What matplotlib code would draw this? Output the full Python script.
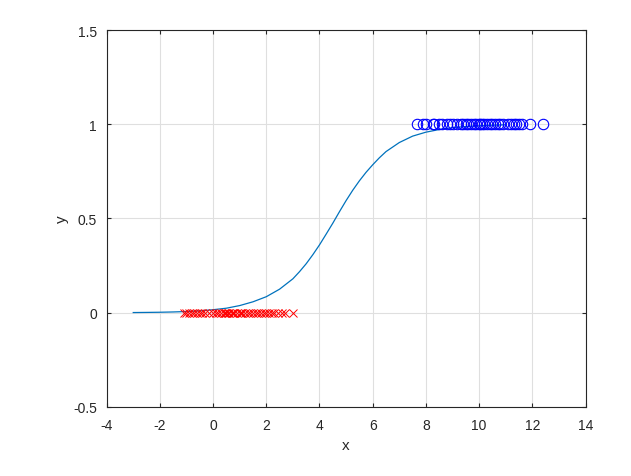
import matplotlib
matplotlib.use('Agg')
import matplotlib.pyplot as plt

plt.rcParams['font.family'] = ['Liberation Sans', 'DejaVu Sans']
plt.rcParams['axes.unicode_minus'] = False

# Curva logística
curva_x = [-3, -2.5, -2, -1.5, -1, -0.5, 0, 0.5, 1, 1.5, 2, 2.5, 3, 3.25, 3.5,
           3.75, 4, 4.25, 4.5, 4.75, 5, 5.25, 5.5, 5.75, 6, 6.25, 6.5, 7, 7.5,
           8, 8.5, 9, 9.5, 10, 10.5, 11]
curva_y = [0.001, 0.0017, 0.0026, 0.0041, 0.0064, 0.010, 0.016, 0.024, 0.038,
           0.058, 0.085, 0.125, 0.18, 0.218, 0.26, 0.308, 0.36, 0.417, 0.475,
           0.536, 0.595, 0.65, 0.70, 0.745, 0.785, 0.822, 0.855, 0.903, 0.937,
           0.958, 0.972, 0.982, 0.988, 0.992, 0.995, 0.997]

# Classe 0 (x vermelhos)
neg_x = [-1.1, -1.0, -0.9, -0.8, -0.7, -0.6, -0.5, -0.4, -0.3, -0.15, 0.0,
         0.1, 0.2, 0.3, 0.4, 0.45, 0.5, 0.55, 0.6, 0.7, 0.75, 0.8, 0.9, 1.0,
         1.05, 1.1, 1.2, 1.3, 1.4, 1.5, 1.6, 1.7, 1.8, 1.9, 2.0, 2.1, 2.2,
         2.3, 2.45, 2.6, 2.7, 3.0]

# Classe 1 (círculos azuis)
pos_x = [7.65, 7.9, 8.0, 8.25, 8.3, 8.5, 8.6, 8.8, 8.9, 9.0, 9.15, 9.3, 9.4,
         9.5, 9.6, 9.7, 9.8, 9.9, 10.0, 10.05, 10.1, 10.2, 10.3, 10.4, 10.5,
         10.6, 10.7, 10.8, 10.9, 11.1, 11.2, 11.3, 11.4, 11.5, 11.6, 11.9, 12.4]

fig = plt.figure(figsize=(6.31, 4.77), dpi=100)
ax = fig.add_axes([0.169, 0.1447, 0.759, 0.7903])

ax.plot(curva_x, curva_y, color='#0072BD', linewidth=0.9)
ax.plot(neg_x, [0] * len(neg_x), 'x', color='red', markersize=6, markeredgewidth=0.7)
ax.plot(pos_x, [1] * len(pos_x), 'o', color='blue', markerfacecolor='none',
        markersize=7.5, markeredgewidth=0.8)

ax.set_xlim(-4, 14)
ax.set_ylim(-0.5, 1.5)
ax.set_xticks(range(-4, 15, 2))
ax.set_yticks([-0.5, 0, 0.5, 1, 1.5])
ax.set_yticklabels(['-0.5', '0', '0.5', '1', '1.5'])
ax.set_xlabel('x', fontsize=11, color='#262626', labelpad=4)
ax.set_ylabel('y', fontsize=11, color='#262626', labelpad=3)
ax.grid(True, color='#dfdfdf', linewidth=0.8)
ax.set_axisbelow(True)
ax.tick_params(direction='in', top=True, right=True, labelsize=10,
               colors='#262626', length=3)
ax.tick_params(axis='x', pad=8)
ax.tick_params(axis='y', pad=7)
for s in ax.spines.values():
    s.set_color('#262626')
    s.set_linewidth(0.8)

fig.savefig('out.png', dpi=100)
